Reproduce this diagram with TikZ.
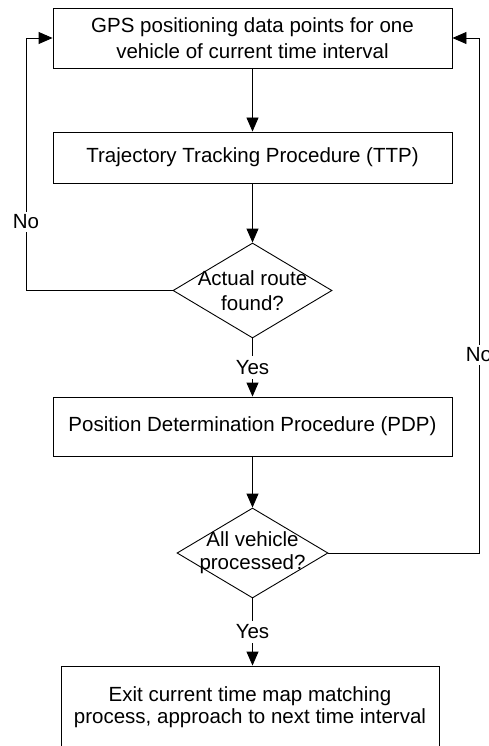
\documentclass[tikz,border=0pt]{standalone}
\usepackage{fontspec}
\setmainfont{Liberation Sans}
\usetikzlibrary{shapes.geometric,arrows.meta}
\begin{document}
\begin{tikzpicture}[x=1pt,y=-1pt,
  every node/.style={font=\fontsize{20.5}{25}\selectfont},
  box/.style={draw, line width=0.9pt, rectangle, inner sep=0pt, align=center},
  dia/.style={draw, line width=0.9pt, diamond, inner sep=0pt},
  dtext/.style={align=center, inner sep=0pt},
  lbl/.style={fill=white, inner xsep=2pt, inner ysep=4pt},
  conn/.style={line width=0.9pt},
  arr/.style={line width=0.9pt, -{Triangle[length=14pt,width=12pt]}}]
\clip (0,0) rectangle (488,746);
% boxes
\node[box, minimum width=399pt, minimum height=60pt, font=\fontsize{20.5}{26}\selectfont] (b1) at (252.5,38) {GPS positioning data points for one\\vehicle of current time interval};
\node[box, minimum width=399pt, minimum height=51pt] (b2) at (252.5,157.5) {Trajectory Tracking Procedure (TTP)};
\node[dia, minimum width=159pt, minimum height=95pt] (d1) at (252.5,290.5) {};
\node[dtext, font=\fontsize{20.5}{25}\selectfont] (t1) at (d1.center) {Actual route\\found?};
\node[box, minimum width=399pt, minimum height=59pt] (b3) at (252.5,426.5) {Position Determination Procedure (PDP)};
\node[dia, minimum width=151pt, minimum height=90pt] (d2) at (252.5,553) {};
\node[dtext, font=\fontsize{20.5}{23}\selectfont] (t2) at (d2.center) {All vehicle\\processed?};
\node[box, minimum width=378pt, minimum height=82pt, font=\fontsize{20.5}{22}\selectfont] (b4) at (250,707) {Exit current time map matching\\process, approach to next time interval};
% connectors
\draw[arr] (b1.south) -- (b2.north);
\draw[arr] (b2.south) -- (d1.north);
\draw[arr] (d1.south) -- node[lbl] (yes1) {Yes} (b3.north);
\draw[arr] (b3.south) -- (d2.north);
\draw[arr] (d2.south) -- node[lbl] (yes2) {Yes} (d2.south |- b4.north);
\draw[arr] (d1.west) -- (26,290.5) |- (b1.west);
\draw[arr] (d2.east) -- (479,553) |- (b1.east);
\node[lbl, inner ysep=3pt] (no1) at (26,222) {No};
\node[lbl, inner ysep=3pt] (no2) at (479,355) {No};
\end{tikzpicture}
\end{document}
